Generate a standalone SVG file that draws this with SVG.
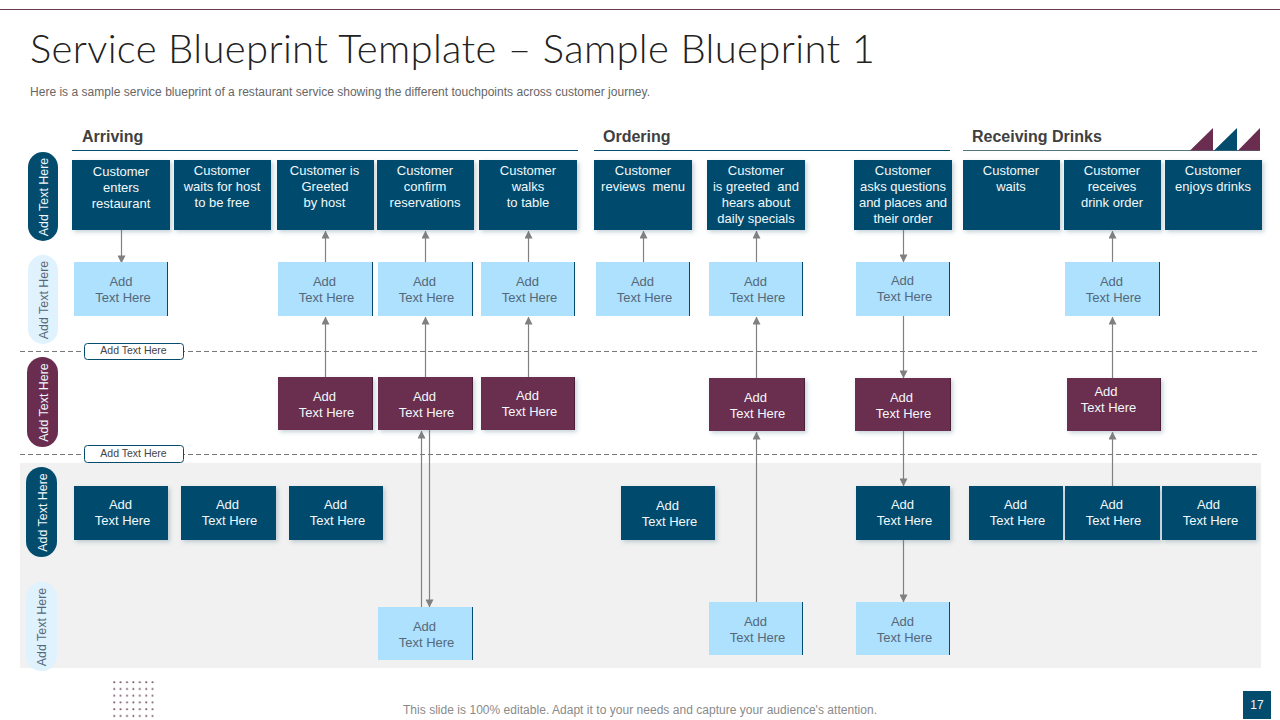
<svg xmlns="http://www.w3.org/2000/svg" width="1280" height="720" viewBox="0 0 1280 720">
<style>
text{font-family:"Liberation Sans",Arial,sans-serif;font-size:13px;text-anchor:middle}
.title{font-family:Lato,"Open Sans",sans-serif;font-size:40px;font-weight:300;fill:#222;text-anchor:start}
.sub{font-size:12px;fill:#666;text-anchor:start}
.foot{font-size:12px;fill:#8a8a8a}
.head{font-size:16px;font-weight:bold;fill:#404040;text-anchor:start}
.w{fill:#f2f8fb}
.d{fill:#55687a}
.navy{fill:#044c6d;filter:url(#sh)}
.sky{fill:#ade1fd}
.plum{fill:#6a2d50;filter:url(#sh)}
.edge{stroke:#044c6d;stroke-width:1;fill:none}
.edgep{stroke:#4a2038;stroke-width:1;fill:none}
.rule{stroke:#044c6d;stroke-width:1}
.dash{stroke:#777;stroke-width:1;stroke-dasharray:5 3}
.conn{stroke:#808080;stroke-width:1.2;fill:none}
.tag{fill:#fff;stroke:#044c6d;stroke-width:1}
.tagt{font-size:10.5px;fill:#444}
.v{font-size:12.4px}
</style>
<defs>
<filter id="sh" x="-10%" y="-10%" width="125%" height="130%"><feDropShadow dx="2" dy="2" stdDeviation="2" flood-color="#5c7f92" flood-opacity="0.35"/></filter>
<marker id="arr" viewBox="0 0 10 10" refX="9.5" refY="5" markerWidth="8" markerHeight="8" markerUnits="userSpaceOnUse" orient="auto"><path d="M0 0L10 5L0 10Z" fill="#808080"/></marker>
<pattern id="dots" x="113" y="681" width="6.4" height="6.75" patternUnits="userSpaceOnUse"><circle cx="1.2" cy="1.2" r="1" fill="#6f4a60"/></pattern>
</defs>
<rect width="1280" height="720" fill="#fff"/>
<rect x="20" y="463" width="1241" height="205" fill="#f1f1f1"/>
<line x1="0" y1="9.5" x2="1280" y2="9.5" stroke="#6a3a55" stroke-width="1"/>
<text class="title" x="30" y="63" textLength="845" lengthAdjust="spacing">Service Blueprint Template – Sample Blueprint 1</text>
<text class="sub" x="30" y="95.500" textLength="620" lengthAdjust="spacing">Here is a sample service blueprint of a restaurant service showing the different touchpoints across customer journey.</text>
<text class="head" x="82" y="142">Arriving</text>
<text class="head" x="603" y="142">Ordering</text>
<text class="head" x="972" y="142">Receiving Drinks</text>
<line class="rule" x1="72" y1="150.500" x2="578" y2="150.500"/>
<line class="rule" x1="594" y1="150.500" x2="950" y2="150.500"/>
<line class="rule" x1="963" y1="150.500" x2="1260" y2="150.500" style="stroke:#52737f"/>
<path d="M1190 150.500L1213 128V150.500Z" fill="#6a2d50"/>
<path d="M1214 150.500L1237 128V150.500Z" fill="#044c6d"/>
<path d="M1238 150.500L1260 128V150.500Z" fill="#6a2d50"/>
<line class="dash" x1="20" y1="351.500" x2="1258" y2="351.500"/>
<line class="dash" x1="20" y1="454.500" x2="1258" y2="454.500"/>
<rect x="113" y="681" width="41" height="37" fill="url(#dots)"/>
<text class="foot" x="640" y="714" textLength="474" lengthAdjust="spacing">This slide is 100% editable. Adapt it to your needs and capture your audience's attention.</text>
<g id="page"><rect x="1243" y="691" width="28" height="28" fill="#044c6d"/><text x="1257" y="709" class="w" style="font-size:12px">17</text></g>

<g id="connectors">
<path class="conn" marker-end="url(#arr)" d="M121.500 230V263"/>
<path class="conn" marker-end="url(#arr)" d="M325.500 262V231"/>
<path class="conn" marker-end="url(#arr)" d="M425.500 262V231"/>
<path class="conn" marker-end="url(#arr)" d="M528.500 262V231"/>
<path class="conn" marker-end="url(#arr)" d="M643.500 262V231"/>
<path class="conn" marker-end="url(#arr)" d="M756.500 262V231"/>
<path class="conn" marker-end="url(#arr)" d="M903.500 230V262"/>
<path class="conn" marker-end="url(#arr)" d="M1112.500 262V231"/>
<path class="conn" marker-end="url(#arr)" d="M325.500 377V317"/>
<path class="conn" marker-end="url(#arr)" d="M425.500 377V317"/>
<path class="conn" marker-end="url(#arr)" d="M528.500 377V317"/>
<path class="conn" marker-end="url(#arr)" d="M756.500 378V317"/>
<path class="conn" marker-end="url(#arr)" d="M903.500 316V378"/>
<path class="conn" marker-end="url(#arr)" d="M1112.500 378V317"/>
<path class="conn" marker-end="url(#arr)" d="M421.500 607V431"/>
<path class="conn" marker-end="url(#arr)" d="M429.500 430V607"/>
<path class="conn" marker-end="url(#arr)" d="M756.500 602V432"/>
<path class="conn" marker-end="url(#arr)" d="M903.500 431V486"/>
<path class="conn" marker-end="url(#arr)" d="M1112.500 486V432"/>
<path class="conn" marker-end="url(#arr)" d="M903.500 540V602"/>
</g>

<g id="pill-1"><rect x="28" y="152" width="30" height="89" rx="15" fill="#044c6d"/><text class="w v" transform="translate(47.500 197) rotate(-90)">Add Text Here</text></g>
<g id="pill-2"><rect x="28" y="255" width="30" height="89" rx="15" fill="#dff2fd"/><text class="d v" transform="translate(47.500 300) rotate(-90)">Add Text Here</text></g>
<g id="pill-3"><rect x="27" y="357" width="31" height="90" rx="15.500" fill="#6a2d50"/><text class="w v" transform="translate(47.500 402.500) rotate(-90)">Add Text Here</text></g>
<g id="pill-4"><rect x="26" y="467" width="31" height="90" rx="15.500" fill="#044c6d"/><text class="w v" transform="translate(47 512.500) rotate(-90)">Add Text Here</text></g>
<g id="pill-5"><rect x="26" y="582" width="31" height="89" rx="15.500" fill="#dff2fd"/><text class="d v" transform="translate(46 627) rotate(-90)">Add Text Here</text></g>

<g id="tag-1"><rect class="tag" x="84.500" y="343.500" width="99" height="16" rx="3"/><text class="tagt" x="133.500" y="354">Add Text Here</text></g>
<g id="tag-2"><rect class="tag" x="84.500" y="445.500" width="99" height="17" rx="3"/><text class="tagt" x="133.500" y="456.500">Add Text Here</text></g>

<g id="c1"><rect class="navy" x="72" y="160" width="98" height="70"/><text class="w" x="121" y="176">Customer</text><text class="w" x="121" y="192">enters</text><text class="w" x="121" y="208">restaurant</text></g>
<g id="c2"><rect class="navy" x="174" y="160" width="97" height="70"/><text class="w" x="222" y="175">Customer</text><text class="w" x="222" y="191">waits for host</text><text class="w" x="222" y="207">to be free</text></g>
<g id="c3"><rect class="navy" x="277" y="160" width="97" height="70"/><text class="w" x="324.500" y="175">Customer is</text><text class="w" x="325" y="191">Greeted</text><text class="w" x="324.500" y="207">by host</text></g>
<g id="c4"><rect class="navy" x="377" y="160" width="97" height="70"/><text class="w" x="425" y="175">Customer</text><text class="w" x="425" y="191">confirm</text><text class="w" x="425" y="207">reservations</text></g>
<g id="c5"><rect class="navy" x="479" y="160" width="98" height="70"/><text class="w" x="528" y="175">Customer</text><text class="w" x="528" y="191">walks</text><text class="w" x="528" y="207">to table</text></g>
<g id="c6"><rect class="navy" x="594" y="160" width="98" height="70"/><text class="w" x="643" y="175">Customer</text><text class="w" x="643" y="191" xml:space="preserve">reviews  menu</text></g>
<g id="c7"><rect class="navy" x="707" y="160" width="98" height="70"/><text class="w" x="756" y="175">Customer</text><text class="w" x="756" y="191" xml:space="preserve">is greeted  and</text><text class="w" x="756" y="207">hears about</text><text class="w" x="756" y="223">daily specials</text></g>
<g id="c8"><rect class="navy" x="854" y="160" width="98" height="70"/><text class="w" x="903" y="175">Customer</text><text class="w" x="903" y="191">asks questions</text><text class="w" x="903" y="207">and places and</text><text class="w" x="903" y="223">their order</text></g>
<g id="c9"><rect class="navy" x="963" y="160" width="97" height="70"/><text class="w" x="1011" y="175">Customer</text><text class="w" x="1011" y="191">waits</text></g>
<g id="c10"><rect class="navy" x="1064" y="160" width="97" height="70"/><text class="w" x="1112" y="175">Customer</text><text class="w" x="1112" y="191">receives</text><text class="w" x="1112" y="207">drink order</text></g>
<g id="c11"><rect class="navy" x="1165" y="160" width="97" height="70"/><text class="w" x="1213" y="175">Customer</text><text class="w" x="1213" y="191">enjoys drinks</text></g>

<g id="s1"><rect class="sky" x="74" y="262" width="94" height="54"/><path class="edge" d="M167.500 262V316"/><text class="d" x="121" y="286">Add</text><text class="d" x="123" y="302">Text Here</text></g>
<g id="s2"><rect class="sky" x="278" y="262" width="95" height="54"/><path class="edge" d="M372.500 262V316"/><text class="d" x="324.500" y="286">Add</text><text class="d" x="326.500" y="302">Text Here</text></g>
<g id="s3"><rect class="sky" x="378" y="262" width="95" height="54"/><path class="edge" d="M472.500 262V316"/><text class="d" x="424.500" y="286">Add</text><text class="d" x="426.500" y="302">Text Here</text></g>
<g id="s4"><rect class="sky" x="481" y="262" width="94" height="54"/><path class="edge" d="M574.500 262V316"/><text class="d" x="527.500" y="286">Add</text><text class="d" x="529.500" y="302">Text Here</text></g>
<g id="s5"><rect class="sky" x="596" y="262" width="94" height="54"/><path class="edge" d="M689.500 262V316"/><text class="d" x="642.500" y="286">Add</text><text class="d" x="644.500" y="302">Text Here</text></g>
<g id="s6"><rect class="sky" x="709" y="262" width="94" height="54"/><path class="edge" d="M802.500 262V316"/><text class="d" x="755.500" y="286">Add</text><text class="d" x="757.500" y="302">Text Here</text></g>
<g id="s7"><rect class="sky" x="856" y="262" width="94" height="54"/><path class="edge" d="M949.500 262V316"/><text class="d" x="902.500" y="285">Add</text><text class="d" x="904.500" y="301">Text Here</text></g>
<g id="s8"><rect class="sky" x="1065" y="262" width="95" height="54"/><path class="edge" d="M1159.500 262V316"/><text class="d" x="1111.500" y="286">Add</text><text class="d" x="1113.500" y="302">Text Here</text></g>

<g id="p1"><rect class="plum" x="278" y="377" width="95" height="53"/><path class="edgep" d="M372.500 377V430"/><text class="w" x="324.500" y="401">Add</text><text class="w" x="326.500" y="417">Text Here</text></g>
<g id="p2"><rect class="plum" x="378" y="377" width="95" height="53"/><path class="edgep" d="M472.500 377V430"/><text class="w" x="424.500" y="401">Add</text><text class="w" x="426.500" y="417">Text Here</text></g>
<g id="p3"><rect class="plum" x="481" y="377" width="94" height="53"/><path class="edgep" d="M574.500 377V430"/><text class="w" x="527.500" y="400">Add</text><text class="w" x="529.500" y="416">Text Here</text></g>
<g id="p4"><rect class="plum" x="709" y="378" width="96" height="53"/><path class="edgep" d="M804.500 378V431"/><text class="w" x="755.500" y="402">Add</text><text class="w" x="757.500" y="418">Text Here</text></g>
<g id="p5"><rect class="plum" x="855" y="378" width="96" height="53"/><path class="edgep" d="M950.500 378V431"/><text class="w" x="901.500" y="402">Add</text><text class="w" x="903.500" y="418">Text Here</text></g>
<g id="p6"><rect class="plum" x="1067" y="378" width="94" height="53"/><path class="edgep" d="M1160.500 378V431"/><text class="w" x="1106" y="396">Add</text><text class="w" x="1108.500" y="412">Text Here</text></g>

<g id="b1"><rect class="navy" x="74" y="486" width="94" height="54"/><text class="w" x="120.500" y="509">Add</text><text class="w" x="122.500" y="525">Text Here</text></g>
<g id="b2"><rect class="navy" x="181" y="486" width="95" height="54"/><text class="w" x="227.500" y="509">Add</text><text class="w" x="229.500" y="525">Text Here</text></g>
<g id="b3"><rect class="navy" x="289" y="486" width="94" height="54"/><text class="w" x="335.500" y="509">Add</text><text class="w" x="337.500" y="525">Text Here</text></g>
<g id="b4"><rect class="navy" x="621" y="486" width="94" height="54"/><text class="w" x="667.500" y="510">Add</text><text class="w" x="669.500" y="526">Text Here</text></g>
<g id="b5"><rect class="navy" x="856" y="486" width="94" height="54"/><text class="w" x="902.500" y="509">Add</text><text class="w" x="904.500" y="525">Text Here</text></g>
<g id="b6"><rect class="navy" x="969" y="486" width="94" height="54"/><text class="w" x="1015.500" y="509">Add</text><text class="w" x="1017.500" y="525">Text Here</text></g>
<g id="b7"><rect class="navy" x="1065" y="486" width="95" height="54"/><text class="w" x="1111.500" y="509">Add</text><text class="w" x="1113.500" y="525">Text Here</text></g>
<g id="b8"><rect class="navy" x="1162" y="486" width="94" height="54"/><text class="w" x="1208.500" y="509">Add</text><text class="w" x="1210.500" y="525">Text Here</text></g>

<g id="l1"><rect class="sky" x="378" y="607" width="95" height="53"/><path class="edge" d="M472.500 607V660"/><text class="d" x="424.500" y="631">Add</text><text class="d" x="426.500" y="647">Text Here</text></g>
<g id="l2"><rect class="sky" x="709" y="602" width="94" height="53"/><path class="edge" d="M802.500 602V655"/><text class="d" x="755.500" y="626">Add</text><text class="d" x="757.500" y="642">Text Here</text></g>
<g id="l3"><rect class="sky" x="856" y="602" width="94" height="53"/><path class="edge" d="M949.500 602V655"/><text class="d" x="902.500" y="626">Add</text><text class="d" x="904.500" y="642">Text Here</text></g>
</svg>
